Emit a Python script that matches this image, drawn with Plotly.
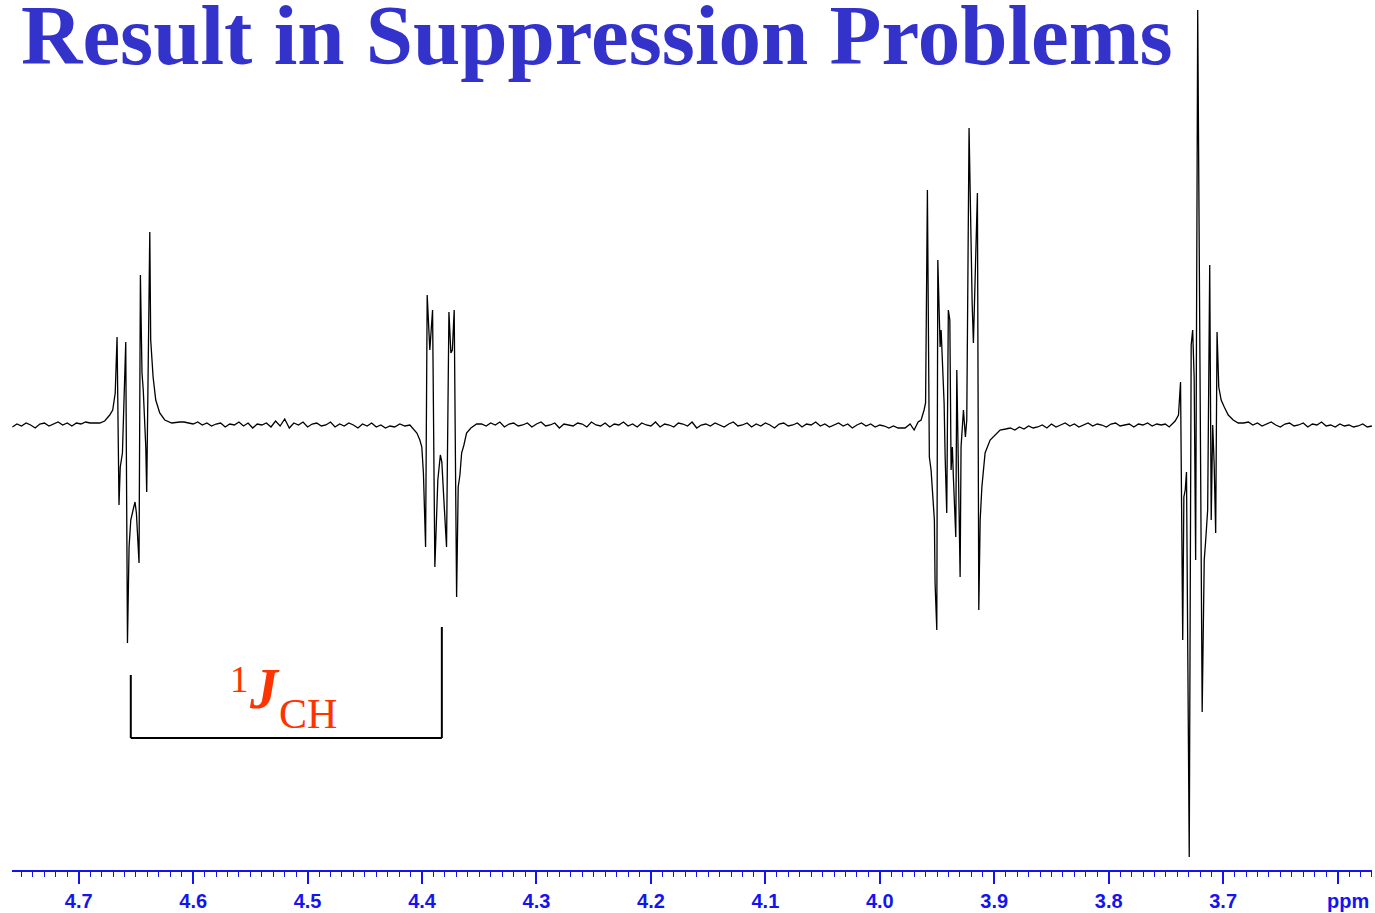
import plotly.graph_objects as go

# ---------------- data (ppm, arbitrary intensity) ----------------
base_a_ppm = [4.758, 4.754, 4.750, 4.746, 4.742, 4.738, 4.734, 4.730, 4.726, 4.722,
              4.718, 4.714, 4.710, 4.706, 4.702, 4.698, 4.694, 4.690, 4.686]
base_a_int = [-2, 1, -1, 2, 0, -3, 1, 2, -1, 1, 3, 0, 2, -1, 2, 1, 3, 2, 2]

mult1_ppm = [4.6816, 4.6773, 4.6729, 4.6703, 4.6681, 4.6665, 4.6648, 4.6637, 4.6618, 4.6589,
             4.6574, 4.6560, 4.6545, 4.6525, 4.6508, 4.6496, 4.6473, 4.6461, 4.6447, 4.6436,
             4.6423, 4.6414, 4.6406, 4.6379, 4.6371, 4.6350, 4.6327, 4.6292, 4.6248, 4.6187,
             4.6117]
mult1_int = [2, 4, 10, 15, 32, 88, -80, -42, -28, 83,
             -218, -122, -95, -85, -77, -88, -138, 150, 52, 35,
             -5, -22, -67, 193, 85, 48, 25, 12, 5, 2,
             3]

base_b_ppm = [4.608, 4.604, 4.600, 4.596, 4.592, 4.588, 4.584, 4.580, 4.576, 4.572,
              4.568, 4.564, 4.560, 4.556, 4.552, 4.548, 4.544, 4.540, 4.536, 4.532,
              4.528, 4.524, 4.520, 4.516, 4.512, 4.508, 4.504, 4.500, 4.496, 4.492,
              4.488, 4.484, 4.480, 4.476, 4.472, 4.468, 4.464, 4.460, 4.456, 4.452,
              4.448, 4.444, 4.440, 4.436, 4.432, 4.428, 4.424]
base_b_int = [3, 2, 1, 3, 0, 2, -1, 1, 2, -2,
              1, 0, 3, -1, 2, -3, 1, 0, 2, -2,
              4, -1, 6, -3, 2, 0, 3, -2, 1, 2,
              -1, 0, 3, -2, 1, -1, 2, 0, -3, 1,
              -1, 2, -2, 0, -3, -1, -2]

mult2_ppm = [4.4194, 4.4150, 4.4106, 4.4071, 4.4045, 4.4019, 4.4002, 4.3988, 4.3969, 4.3955,
             4.3945, 4.3932, 4.3923, 4.3908, 4.3888, 4.3862, 4.3840, 4.3827, 4.3809, 4.3786,
             4.3765, 4.3748, 4.3735, 4.3719, 4.3698, 4.3684, 4.3669, 4.3654, 4.3634, 4.3611,
             4.3573, 4.3523]
mult2_int = [1, -1, 0, -5, -8, -15, -22, -48, -122, 130,
             105, 75, 90, 115, -142, -55, -30, -37, -75, -122,
             113, 72, 75, 115, -172, -62, -50, -28, -20, -8,
             -3, 1]

base_c_ppm = [4.348, 4.344, 4.340, 4.336, 4.332, 4.328, 4.324, 4.320, 4.316, 4.312,
              4.308, 4.304, 4.300, 4.296, 4.292, 4.288, 4.284, 4.280, 4.276, 4.272,
              4.268, 4.264, 4.260, 4.256, 4.252, 4.248, 4.244, 4.240, 4.236, 4.232,
              4.228, 4.224, 4.220, 4.216, 4.212, 4.208, 4.204, 4.200, 4.196, 4.192,
              4.188, 4.184, 4.180, 4.176, 4.172, 4.168, 4.164, 4.160, 4.156, 4.152,
              4.148, 4.144, 4.140, 4.136, 4.132, 4.128, 4.124, 4.120, 4.116, 4.112,
              4.108, 4.104, 4.100, 4.096, 4.092, 4.088, 4.084, 4.080, 4.076, 4.072,
              4.068, 4.064, 4.060, 4.056, 4.052, 4.048, 4.044, 4.040, 4.036, 4.032,
              4.028, 4.024, 4.020, 4.016, 4.012, 4.008, 4.004, 4.000, 3.996, 3.992,
              3.988, 3.984]
base_c_int = [1, -1, 2, 0, 3, -2, 1, 2, -1, 0,
              2, -2, 1, 3, -1, 0, 2, -3, 1, 0,
              -1, 2, 1, -2, 3, 0, -1, 2, -2, 1,
              0, 3, -1, 1, -2, 2, 0, -1, 3, -2,
              1, 0, -2, 2, 1, -1, 3, -3, 0, 1,
              -1, 2, 0, -2, 1, 3, -1, 0, 2, -2,
              1, -1, 2, 0, -3, 1, 2, -1, 0, 2,
              -2, 1, 0, 3, -1, 1, -2, 0, 2, -1,
              1, -3, 0, 2, -1, 1, -2, 0, -1, -3,
              -1, -3]

mult3_ppm = [3.9779, 3.9735, 3.9700, 3.9665, 3.9639, 3.9613, 3.9600, 3.9584, 3.9567, 3.9552,
             3.9537, 3.9523, 3.9517, 3.9502, 3.9493, 3.9473, 3.9464, 3.9450, 3.9438, 3.9429,
             3.9415, 3.9401, 3.9388, 3.9377, 3.9366, 3.9357, 3.9336, 3.9327, 3.9298, 3.9290,
             3.9281, 3.9269, 3.9252, 3.9240, 3.9220, 3.9202, 3.9193, 3.9182, 3.9147, 3.9135,
             3.9123, 3.9108, 3.9080, 3.9036, 3.8977, 3.8949]
mult3_int = [-3, 1, -5, 3, 5, 15, 22, 235, -32, -45,
             -68, -95, -158, -205, 165, 78, 95, 55, 22, -32,
             -88, 115, 105, -45, -22, -52, -112, 55, -152, -22,
             -8, 15, -12, 5, 297, 145, 122, 82, 232, -185,
             -95, -62, -28, -15, -8, -5]

base_d_ppm = [3.890, 3.886, 3.882, 3.878, 3.874, 3.870, 3.866, 3.862, 3.858, 3.854,
              3.850, 3.846, 3.842, 3.838, 3.834, 3.830, 3.826, 3.822, 3.818, 3.814,
              3.810, 3.806, 3.802, 3.798, 3.794, 3.790, 3.786, 3.782, 3.778, 3.774,
              3.770, 3.766, 3.762, 3.758, 3.754]
base_d_int = [-4, -3, -5, -2, -4, -1, -3, -2, 0, -3,
              1, -2, 0, 2, -1, 1, -2, 0, 2, -1,
              1, 0, -2, 1, 2, -1, 0, 1, -2, 1,
              0, 2, -1, 1, 0]

mult4_ppm = [3.7506, 3.7471, 3.7445, 3.7419, 3.7390, 3.7372, 3.7353, 3.7343, 3.7331, 3.7320,
             3.7296, 3.7279, 3.7266, 3.7253, 3.7240, 3.7222, 3.7183, 3.7165, 3.7152, 3.7135,
             3.7117, 3.7104, 3.7091, 3.7078, 3.7065, 3.7053, 3.7038, 3.7017, 3.6990, 3.6955,
             3.6912, 3.6868]
mult4_int = [1, -2, 1, 4, 10, 43, -215, -72, -65, -47,
             -432, 80, 95, 47, -135, 415, -287, -135, -115, -85,
             160, -95, 0, -40, -108, 93, 38, 25, 18, 10,
             5, 2]

base_e_ppm = [3.682, 3.678, 3.674, 3.670, 3.666, 3.662, 3.658, 3.654, 3.650, 3.646,
              3.642, 3.638, 3.634, 3.630, 3.626, 3.622, 3.618, 3.614, 3.610, 3.606,
              3.602, 3.598, 3.594, 3.590, 3.586, 3.582, 3.578, 3.574, 3.570]
base_e_int = [2, 3, 0, 2, -1, 1, 3, 0, -2, 1,
              2, -1, 0, 2, -2, 1, 0, 3, -1, 0,
              -2, 1, -1, 0, -2, -1, 1, -2, -1]

tick_vals = [4.7, 4.6, 4.5, 4.4, 4.3, 4.2, 4.1, 4.0, 3.9, 3.8, 3.7, 3.6]
tick_text = ["4.7", "4.6", "4.5", "4.4", "4.3", "4.2", "4.1", "4.0", "3.9", "3.8", "3.7", ""]

title_text = "Result in Suppression Problems"
j_left_ppm, j_right_ppm = 4.6545, 4.3827
j_left_top, j_right_top, j_bottom = -250, -202, -313
# label pieces: (text, ppm, intensity, size)
j_sup = ("1", 4.5593, -254, 37)
j_main = ("<b><i>J</i></b>", 4.5374, -264, 56)
j_sub = ("CH", 4.4994, -289, 42)

# ---------------- assemble ----------------
segments = [(base_a_ppm, base_a_int), (mult1_ppm, mult1_int), (base_b_ppm, base_b_int),
            (mult2_ppm, mult2_int), (base_c_ppm, base_c_int), (mult3_ppm, mult3_int),
            (base_d_ppm, base_d_int), (mult4_ppm, mult4_int), (base_e_ppm, base_e_int)]
ppm, inten = [], []
for p, v in segments:
    assert len(p) == len(v), (len(p), len(v))
    ppm += p
    inten += v

BLUE = "#1414F0"
SERIF = "Liberation Serif, Times New Roman, serif"
SANS = "Liberation Sans, Arial, sans-serif"

fig = go.Figure()
fig.add_trace(go.Scatter(x=ppm, y=inten, mode="lines",
                         line=dict(color="black", width=1.3), hoverinfo="skip"))

# 1J_CH bracket
for x0, y0, x1, y1 in [(j_left_ppm, j_left_top, j_left_ppm, j_bottom),
                       (j_right_ppm, j_right_top, j_right_ppm, j_bottom),
                       (j_left_ppm, j_bottom, j_right_ppm, j_bottom)]:
    fig.add_shape(type="line", xref="x", yref="y", x0=x0, y0=y0, x1=x1, y1=y1,
                  line=dict(color="black", width=2))

for txt, px, iv, sz in (j_sup, j_main, j_sub):
    fig.add_annotation(x=px, y=iv, xref="x", yref="y", text=txt,
                       showarrow=False, xanchor="center", yanchor="middle",
                       font=dict(family=SERIF, size=sz, color="#FF3300"))

fig.add_annotation(x=0.0051, y=0.9592, xref="paper", yref="paper", text=title_text,
                   showarrow=False, xanchor="left", yanchor="middle",
                   font=dict(family=SERIF, size=85, color="#3333CC", weight="bold"))

fig.add_annotation(x=3.5906, y=-0.0356, xref="x", yref="paper", text="ppm",
                   showarrow=False, xanchor="center", yanchor="middle",
                   font=dict(family=SANS, size=20, color=BLUE, weight="bold"))

fig.update_layout(
    width=1375, height=913,
    margin=dict(l=12, r=3, t=0, b=43),
    plot_bgcolor="white", paper_bgcolor="white", showlegend=False,
    xaxis=dict(range=[4.7583, 3.5699], showline=True, linecolor=BLUE, linewidth=1.5,
               ticks="outside", ticklen=12, tickwidth=1.5, tickcolor=BLUE,
               tickmode="array", tickvals=tick_vals, ticktext=tick_text,
               tickfont=dict(family=SANS, size=20, color=BLUE, weight="bold"),
               showgrid=False, zeroline=False,
               minor=dict(ticks="outside", ticklen=5, tickwidth=1.2, tickcolor=BLUE,
                          tickmode="linear", tick0=3.6, dtick=0.01, showgrid=False)),
    yaxis=dict(range=[-445, 425], visible=False, showgrid=False, zeroline=False),
)

fig.write_html("out.html", config={"displayModeBar": False},
               post_script="document.body.style.margin='0';document.body.style.overflow='hidden';")
